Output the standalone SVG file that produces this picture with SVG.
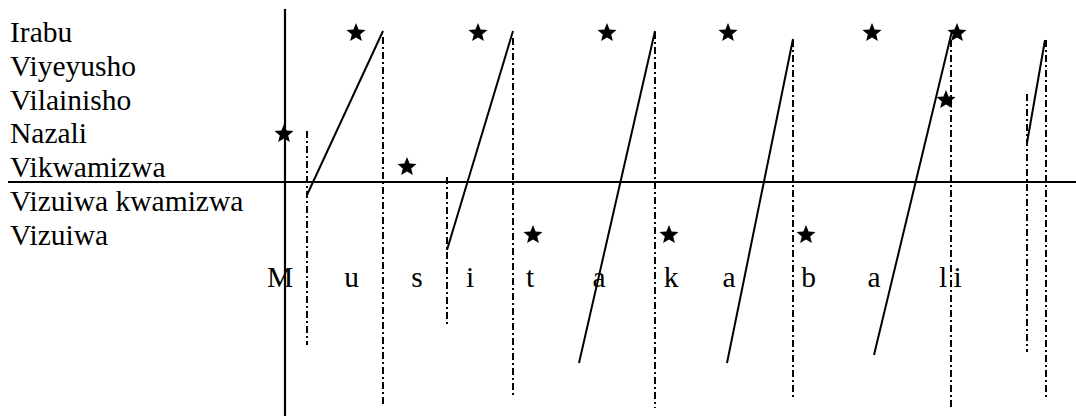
<svg xmlns="http://www.w3.org/2000/svg" width="1076" height="416" viewBox="0 0 1076 416">
<style>
text{font-family:"Liberation Serif","Times New Roman",serif;font-size:29.5px;fill:#000}
.ax{stroke:#000;stroke-width:2.2;fill:none}
.dd{stroke:#000;stroke-width:2;fill:none;stroke-dasharray:7 3 2 3}
.sl{stroke:#000;stroke-width:2;fill:none}
</style>
<defs>
<polygon id="star" points="0,-10 2.6,-3.6 9.5,-3.1 4.2,1.4 5.9,8.1 0,4.4 -5.9,8.1 -4.2,1.4 -9.5,-3.1 -2.6,-3.6" fill="#000"/>
</defs>
<rect width="1076" height="416" fill="#fff"/>
<g id="row-labels">
<text x="10" y="42">Irabu</text>
<text x="10" y="76">Viyeyusho</text>
<text x="10" y="110">Vilainisho</text>
<text x="10" y="143">Nazali</text>
<text x="10" y="177">Vikwamizwa</text>
<text x="10" y="211">Vizuiwa kwamizwa</text>
<text x="10" y="245">Vizuiwa</text>
</g>
<g id="axes">
<line class="ax" x1="285" y1="9" x2="285" y2="416"/>
<line class="ax" x1="8" y1="182" x2="1076" y2="182"/>
</g>
<g id="segment-letters" text-anchor="middle">
<text x="280" y="287">M</text>
<text x="351.5" y="287">u</text>
<text x="417" y="287">s</text>
<text x="470" y="287">i</text>
<text x="530" y="287">t</text>
<text x="599" y="287">a</text>
<text x="671" y="287">k</text>
<text x="729" y="287">a</text>
<text x="808.5" y="287">b</text>
<text x="874" y="287">a</text>
<text x="943" y="287">l</text>
<text x="957.5" y="287">i</text>
</g>
<g id="connectors">
<line class="dd" x1="307" y1="131" x2="307" y2="345"/>
<line class="dd" x1="383" y1="37" x2="383" y2="407"/>
<line class="dd" x1="447" y1="177" x2="447" y2="325"/>
<line class="dd" x1="513" y1="38" x2="513" y2="398"/>
<line class="dd" x1="655" y1="32" x2="655" y2="408"/>
<line class="dd" x1="793" y1="40" x2="793" y2="398"/>
<line class="dd" x1="951" y1="40" x2="951" y2="408"/>
<line class="dd" x1="1027" y1="94" x2="1027" y2="352"/>
<line class="dd" x1="1046" y1="40" x2="1046" y2="398"/>
<line class="sl" x1="307" y1="195" x2="383" y2="31"/>
<line class="sl" x1="447" y1="250" x2="513" y2="31"/>
<line class="sl" x1="579" y1="363" x2="655" y2="31"/>
<line class="sl" x1="727" y1="363" x2="793" y2="39"/>
<line class="sl" x1="874" y1="355" x2="952" y2="31"/>
<line class="sl" x1="1027" y1="143" x2="1045" y2="40"/>
</g>
<g id="stars">
<use href="#star" x="356" y="33"/>
<use href="#star" x="478" y="33"/>
<use href="#star" x="607" y="33"/>
<use href="#star" x="728" y="33"/>
<use href="#star" x="872" y="33"/>
<use href="#star" x="957" y="33"/>
<use href="#star" x="946" y="100"/>
<use href="#star" x="284" y="134"/>
<use href="#star" x="407" y="167"/>
<use href="#star" x="533" y="235"/>
<use href="#star" x="669" y="235"/>
<use href="#star" x="806" y="235"/>
</g>
</svg>
